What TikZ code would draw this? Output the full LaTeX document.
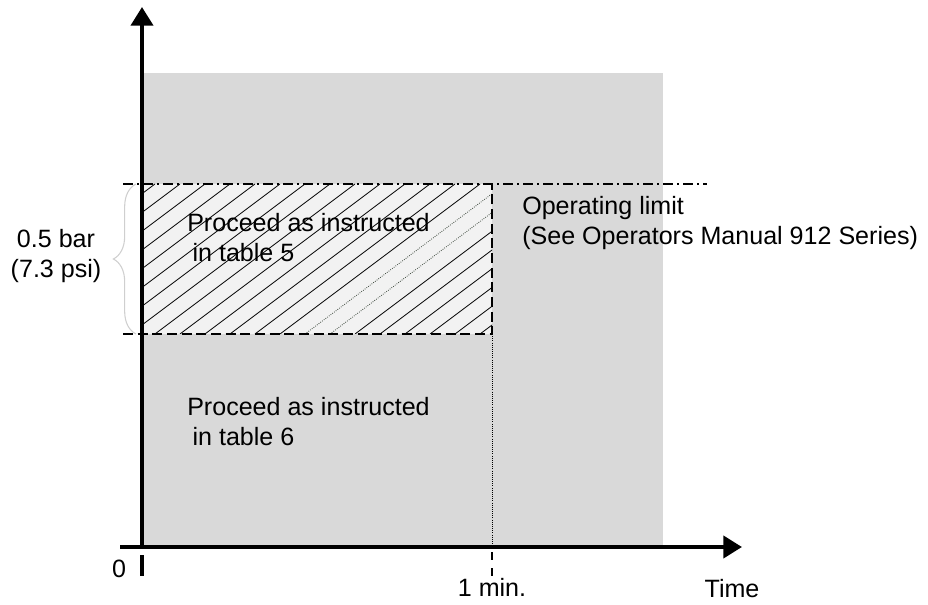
\documentclass[tikz,border=0pt]{standalone}
\usepackage{fontspec}
\setmainfont{Liberation Sans}
\usepackage{tikz}
\usetikzlibrary{
	arrows.meta,
	decorations.pathreplacing,
	positioning
}
\definecolor{chartgrey}{HTML}{D9D9D9}
\definecolor{hatchfill}{HTML}{F2F2F2}
\definecolor{bracegrey}{HTML}{CFCFCF}
\definecolor{dotgrey}{HTML}{3A463A}
\tikzstyle{every picture}+=[>={Triangle[length=14pt,width=16.5pt]}]

\begin{document}
\begin{tikzpicture}[x=0.75pt, y=-0.75pt]
	\useasboundingbox (0,0) rectangle (928,605);

	\newcommand\AxisX{142}
	\newcommand\AxisY{547}
	\newcommand\LimitTop{184}
	\newcommand\LimitBottom{334}
	\newcommand\OneMin{492}
	\begin{scope}[
			axis/.style={->, line width=3pt},
			limit/.style={line width=1.6pt, dash pattern=on 7.5pt off 3.5pt},
			limitdd/.style={line width=1.4pt, dash pattern=on 7.5pt off 3pt on 1.5pt off 3pt},
			hatch/.style={line width=0.6pt},
			txt/.style={font=\fontsize{18.8}{22.5}\selectfont, inner sep=0pt, align=left}
			]
		% grey area and the hatched band
		\fill[chartgrey] (\AxisX,73) rectangle (663,\AxisY);
		\fill[hatchfill] (\AxisX,\LimitTop) rectangle (\OneMin,\LimitBottom);
		\begin{scope}
			\clip (\AxisX,\LimitTop) rectangle (\OneMin,\LimitBottom);
			\foreach \x in {-70,-45,...,280,355,380,...,480} {
				\draw[hatch] (\x,\LimitBottom) -- ++(200,-150);
			}
			\foreach \x in {305,330} {
				\draw[dotgrey, line width=0.6pt, densely dotted] (\x,\LimitBottom) -- ++(200,-150);
			}
		\end{scope}

		% limits
		\draw[limitdd] (123,\LimitTop) -- (707,\LimitTop);
		\draw[limit] (123,\LimitBottom) -- (\OneMin,\LimitBottom) -- (\OneMin,\LimitTop);
		\draw[line width=0.6pt, densely dotted] (\OneMin,\LimitBottom) -- (\OneMin,\AxisY);

		% axes
		\coordinate (ytip) at (\AxisX,7);
		\coordinate (xstart) at (120,\AxisY);
		\coordinate (xtip) at (742,\AxisY);
		\draw[axis] (\AxisX,\AxisY) -- (ytip);
		\draw[axis] (xstart) -- (xtip);
		\draw[line width=3pt] (\AxisX,555) -- (\AxisX,576);
		\draw[line width=1.5pt, dash pattern=on 6pt off 6pt] (\OneMin,552) -- (\OneMin,577);

		\draw[bracegrey, line width=0.8pt, decorate, decoration={brace, amplitude=17pt}]
			(136,\LimitBottom) -- (136,\LimitTop);

		% labels (base = baseline of the last line)
		\node[txt, align=center, anchor=base] (bar) at (56,278) {0.5 bar\\(7.3 psi)};
		\node[txt, anchor=base west] (table5) at (187,262) {Proceed as instructed\\\hspace*{4pt}in table 5};
		\node[txt, anchor=base west] (oplimit) at (522,245) {Operating limit\\(See Operators Manual 912 Series)};
		\node[txt, anchor=base west] (table6) at (187,446) {Proceed as instructed\\\hspace*{4pt}in table 6};
		\node[txt, anchor=base] (zero) at (119,577) {0};
		\node[txt, anchor=base] (onemin) at (\OneMin,596) {1 min.};
		\node[txt, anchor=base] (time) at (732,597) {Time};
	\end{scope}

\end{tikzpicture}
\end{document}
